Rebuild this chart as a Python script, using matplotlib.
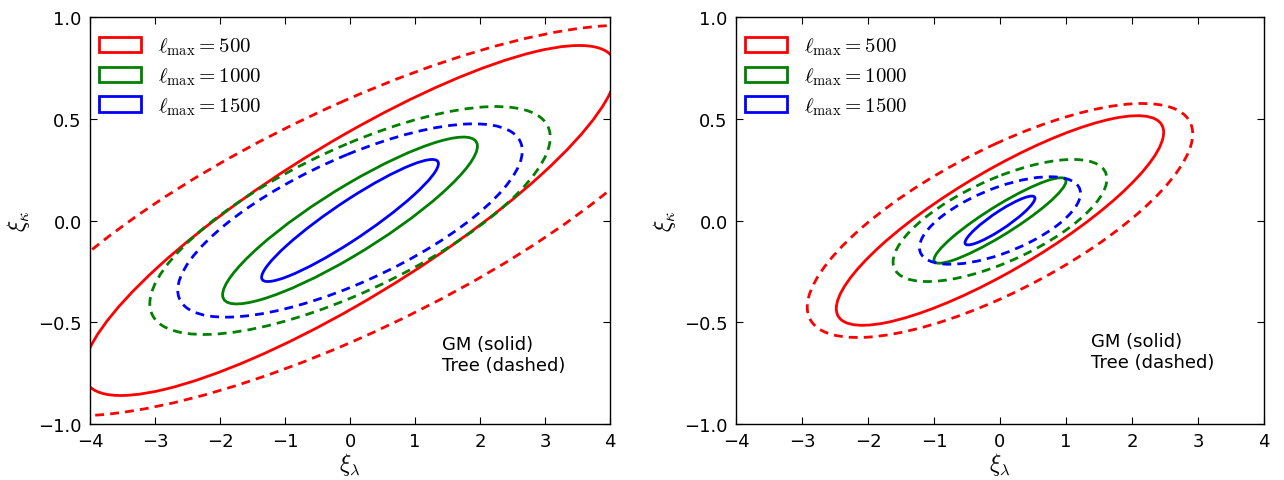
import numpy as np
import matplotlib
matplotlib.use("Agg")
import matplotlib.pyplot as plt
from matplotlib.patches import Ellipse, Patch

plt.rcParams['mathtext.fontset'] = 'cm'
plt.rcParams['font.family'] = ['DejaVu Sans']

# ell_max values and colours
lmax = [500, 1000, 1500]
colors = ['#ff0000', '#008000', '#0000ff']

# Contour ellipse parameters: x half-extent, y half-extent, correlation
# Left panel
left_gm_sx = [4.1, 1.96, 1.36]
left_gm_sy = [0.86, 0.41, 0.30]
left_gm_r = [0.86, 0.89, 0.93]
left_tree_sx = [5.4, 3.08, 2.65]
left_tree_sy = [0.96, 0.56, 0.475]
left_tree_r = [0.78, 0.73, 0.72]
# Right panel
right_gm_sx = [2.48, 1.0, 0.53]
right_gm_sy = [0.515, 0.21, 0.12]
right_gm_r = [0.84, 0.92, 0.91]
right_tree_sx = [2.92, 1.62, 1.22]
right_tree_sy = [0.575, 0.30, 0.215]
right_tree_r = [0.74, 0.68, 0.62]

xticks = [-4, -3, -2, -1, 0, 1, 2, 3, 4]
yticks = [-1.0, -0.5, 0.0, 0.5, 1.0]


def add_ellipse(ax, sx, sy, r, color, ls):
    cov = np.array([[sx * sx, r * sx * sy], [r * sx * sy, sy * sy]])
    vals, vecs = np.linalg.eigh(cov)
    order = vals.argsort()[::-1]
    vals, vecs = vals[order], vecs[:, order]
    angle = np.degrees(np.arctan2(vecs[1, 0], vecs[0, 0]))
    e = Ellipse((0, 0), 2 * np.sqrt(vals[0]), 2 * np.sqrt(vals[1]), angle=angle,
                fill=False, edgecolor=color, lw=2, linestyle=ls)
    ax.add_patch(e)


fig = plt.figure(figsize=(12.84, 4.81), dpi=100)
ax1 = fig.add_axes([0.0701, 0.1164, 0.405, 0.8462])
ax2 = fig.add_axes([0.5732, 0.1164, 0.4112, 0.8462])

panels = [
    (ax1, left_gm_sx, left_gm_sy, left_gm_r, left_tree_sx, left_tree_sy, left_tree_r, (1.42, -0.565)),
    (ax2, right_gm_sx, right_gm_sy, right_gm_r, right_tree_sx, right_tree_sy, right_tree_r, (1.38, -0.55)),
]

for ax, gsx, gsy, gr, tsx, tsy, tr, tpos in panels:
    for i in range(3):
        add_ellipse(ax, gsx[i], gsy[i], gr[i], colors[i], '-')
        add_ellipse(ax, tsx[i], tsy[i], tr[i], colors[i], (0, (3.2, 2.2)))
    ax.set_xlim(-4, 4)
    ax.set_ylim(-1, 1)
    ax.set_xticks(xticks)
    ax.set_yticks(yticks)
    ax.tick_params(direction='in', top=True, right=True, labelsize=13, length=5, pad=6)
    ax.set_xlabel(r'$\xi_\lambda$', fontsize=17, labelpad=0)
    ax.set_ylabel(r'$\xi_\kappa$', fontsize=17)
    for s in ax.spines.values():
        s.set_linewidth(1.0)
    handles = [Patch(facecolor='white', edgecolor=colors[i], lw=2,
                     label=r'$\ell_{\rm max} = %d$' % lmax[i]) for i in range(3)]
    ax.legend(handles=handles, loc='upper left', bbox_to_anchor=(-0.01, 0.99),
              frameon=False, fontsize=15,
              handlelength=2.0, handleheight=0.75, labelspacing=0.4,
              borderaxespad=0.3, handletextpad=0.8)
    ax.text(tpos[0], tpos[1], 'GM (solid)\nTree (dashed)', fontsize=13,
            va='top', ha='left', linespacing=1.15)

fig.savefig('out.png', dpi=100)
